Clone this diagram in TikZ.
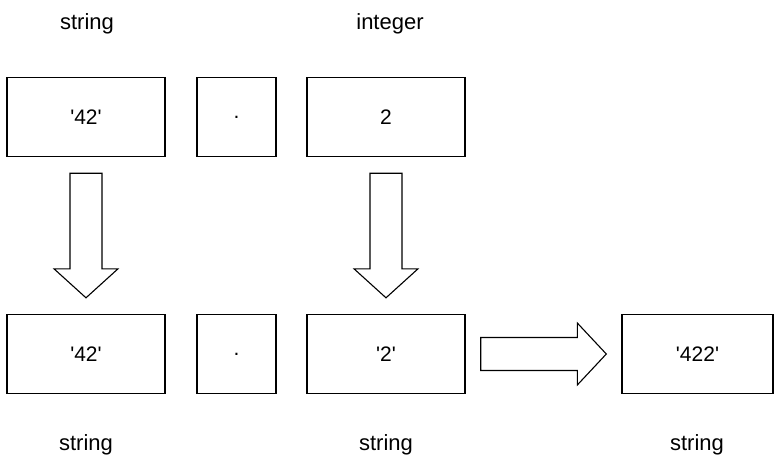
\documentclass[tikz,border=0pt]{standalone}
\usepackage{fontspec}
\setmainfont{Liberation Sans}
\usetikzlibrary{calc}
\newcommand{\sq}{\textquotesingle}
\begin{document}
\begin{tikzpicture}[x=1pt,y=-1pt,
  box/.style={draw, line width=1.4pt, minimum width=158pt, minimum height=79pt, inner sep=0pt, font=\fontsize{21}{24}\selectfont},
  dotbox/.style={box, minimum width=79pt},
  lbl/.style={inner sep=0pt, font=\fontsize{22}{26}\selectfont},
  blk/.style={draw, line width=1.1pt, line join=miter, fill=white}]
\useasboundingbox (0,0) rectangle (774,459);
% top row
\node[box] (t1) at (86,117) {\sq42\sq};
\node[dotbox] (t2) at (236.5,117) {.};
\node[box] (t3) at (386,117) {2};
% bottom row
\node[box] (b1) at (86,354) {\sq42\sq};
\node[dotbox] (b2) at (236.5,354) {.};
\node[box] (b3) at (386,354) {\sq2\sq};
\node[box, minimum width=151pt] (b4) at (697.5,354) {\sq422\sq};
% labels
\node[lbl] (l1) at (87,24) {string};
\node[lbl] (l2) at (390,24) {integer};
\node[lbl] (l3) at (86,445) {string};
\node[lbl] (l4) at (386,445) {string};
\node[lbl] (l5) at (697,445) {string};
% block arrows
\draw[blk] ($(t1.south)+(-16,16)$) -- ($(t1.south)+(16,16)$) -- ($(b1.north)+(16,-45)$) -- ($(b1.north)+(32,-45)$) -- ($(b1.north)+(0,-16)$) -- ($(b1.north)+(-32,-45)$) -- ($(b1.north)+(-16,-45)$) -- cycle;
\draw[blk] ($(t3.south)+(-16,16)$) -- ($(t3.south)+(16,16)$) -- ($(b3.north)+(16,-45)$) -- ($(b3.north)+(32,-45)$) -- ($(b3.north)+(0,-16)$) -- ($(b3.north)+(-32,-45)$) -- ($(b3.north)+(-16,-45)$) -- cycle;
\draw[blk] ($(b3.east)+(15,-16.5)$) -- ($(b4.west)+(-44,-16.5)$) -- ($(b4.west)+(-44,-31)$) -- ($(b4.west)+(-15,0)$) -- ($(b4.west)+(-44,31)$) -- ($(b4.west)+(-44,16.5)$) -- ($(b3.east)+(15,16.5)$) -- cycle;
\end{tikzpicture}
\end{document}
